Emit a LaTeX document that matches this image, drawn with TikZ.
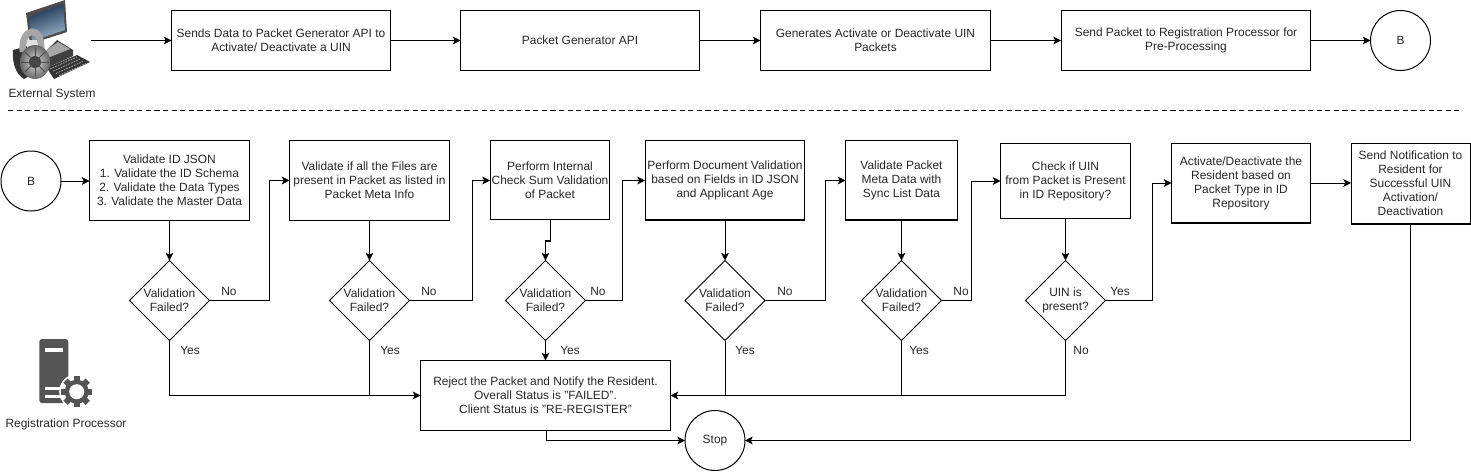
\documentclass[tikz,border=0pt]{standalone}
\usepackage{fontspec}
\setmainfont{Liberation Sans}
\usetikzlibrary{arrows.meta,shapes.geometric}
\tikzset{%
	font=\fontsize{6.8}{7.94}\selectfont,
	>={Stealth[length=4.4pt,width=4.4pt,inset=1.1pt,black]},
	flow item/.style={draw,line width=.57pt,text=black!85,outer sep=0pt,inner sep=0pt,align=center,execute at begin node=\vspace*{1pt}},
	decision/.style={flow item,diamond,minimum width=1.6cm,minimum height=1.6cm},
	endpoint/.style={flow item,circle,minimum size=1.2cm},
	link/.style={draw,line width=.57pt,->},
	tag/.style={inner sep=0pt,text=black!85},
	icon fill/.style={fill=black!67}
}
\definecolor{screendark}{HTML}{16304F}
\definecolor{screenlight}{HTML}{9DB4C8}
\begin{document}
\begin{tikzpicture}[x=.02cm,y=-.02cm]
	\useasboundingbox (0,0) rectangle (1471,471);

	% top row
	\coordinate (ext) at (91,40.5);
	\node[flow item,minimum width=4.38cm,minimum height=1.2cm] (send) at (281,40.5) {Sends Data to Packet Generator API to\\Activate/ Deactivate a UIN};
	\node[flow item,minimum width=4.78cm,minimum height=1.2cm] (api) at (580,40.5) {Packet Generator API};
	\node[flow item,minimum width=4.6cm,minimum height=1.2cm] (gen) at (875.5,40.5) {Generates Activate or Deactivate UIN\\Packets};
	\node[flow item,minimum width=5cm,minimum height=1.2cm] (proc) at (1186,40.5) {Send Packet to Registration Processor for\\Pre-Processing};
	\node[endpoint] (b1) at (1400.5,40.5) {B};
	\draw[line width=.57pt,dash pattern=on 3pt off 1.9pt] (8,110.5) -- (1459,110.5);

	% bottom row
	\node[endpoint] (b2) at (31,181) {B};
	\node[flow item,minimum width=3.2cm,minimum height=1.6cm] (json) at (169.5,180.5) {Validate ID JSON\\1. Validate the ID Schema\\2. Validate the Data Types\\3. Validate the Master Data};
	\node[flow item,minimum width=3.2cm,minimum height=1.6cm] (files) at (369.5,180.5) {Validate if all the Files are\\present in Packet as listed in\\Packet Meta Info};
	\node[flow item,minimum width=2.4cm,minimum height=1.58cm] (sum) at (550,180) {Perform Internal\\Check Sum Validation\\of Packet};
	\node[flow item,minimum width=3.2cm,minimum height=1.6cm] (doc) at (725,180) {Perform Document Validation\\based on Fields in ID JSON\\and Applicant Age};
	\node[flow item,minimum width=2.24cm,minimum height=1.6cm] (meta) at (901.5,180) {Validate Packet\\Meta Data with\\Sync List Data};
	\node[flow item,minimum width=2.6cm,minimum height=1.5cm] (uin) at (1065.5,181) {Check if UIN\\from Packet is Present\\in ID Repository?};
	\node[flow item,minimum width=2.78cm,minimum height=1.6cm] (act) at (1241,183) {Activate/Deactivate the\\Resident based on\\Packet Type in ID\\Repository};
	\node[flow item,minimum width=2.38cm,minimum height=1.62cm] (note) at (1410.5,183.5) {Send Notification to\\Resident for\\Successful UIN\\Activation/\\Deactivation};

	\node[decision] (d1) at (169.5,300.5) {Validation\\Failed?};
	\node[decision] (d2) at (369.5,300.5) {Validation\\Failed?};
	\node[decision] (d3) at (545.5,300.5) {Validation\\Failed?};
	\node[decision] (d4) at (725,300.5) {Validation\\Failed?};
	\node[decision] (d5) at (901.5,300.5) {Validation\\Failed?};
	\node[decision] (d6) at (1065.5,300.5) {UIN is\\present?};

	\node[flow item,minimum width=5cm,minimum height=1.4cm] (reject) at (545.5,395.5) {Reject the Packet and Notify the Resident.\\Overall Status is "FAILED".\\Client Status is "RE-REGISTER"};
	\node[endpoint] (stop) at (715,440.5) {Stop};

	% connectors
	\draw[link] (ext) -- (send.west);
	\draw[link] (send) -- (api);
	\draw[link] (api) -- (gen);
	\draw[link] (gen) -- (proc);
	\draw[link] (proc) -- (b1);
	\draw[link] (b2.east) -- (json.west |- b2.east);
	\draw[link] (json) -- (d1);
	\draw[link] (files) -- (d2);
	\draw[link] (sum.south) -- ++(0,21.5) -| (d3.north);
	\draw[link] (doc) -- (d4);
	\draw[link] (meta) -- (d5);
	\draw[link] (uin) -- (d6);
	\draw[link] (act.east) -- (note.west |- act.east);

	\coordinate (t1) at (269.5,180.5);
	\coordinate (t2) at (472,180.5);
	\coordinate (t3) at (622,180.5);
	\coordinate (t4) at (825,180.5);
	\coordinate (t5) at (971,181);
	\coordinate (t6) at (1152,183);
	\draw[link] (d1.east) -| (t1) -- (files.west |- t1);
	\draw[link] (d2.east) -| (t2) -- (sum.west |- t2);
	\draw[link] (d3.east) -| (t3) -- (doc.west |- t3);
	\draw[link] (d4.east) -| (t4) -- (meta.west |- t4);
	\draw[link] (d5.east) -| (t5) -- (uin.west |- t5);
	\draw[link] (d6.east) -| (t6) -- (act.west |- t6);

	\draw[link] (d1.south) |- (reject.west);
	\draw[link,-] (d2.south) -- (d2.south |- reject.west);
	\draw[link] (d3.south) -- (reject.north);
	\draw[link,-] (d4.south) -- (d4.south |- reject.east);
	\draw[link,-] (d5.south) -- (d5.south |- reject.east);
	\draw[link] (d6.south) |- (reject.east);
	\draw[link] (note.south) |- (stop.east);
	\draw[link] ([xshift=.02cm]reject.south) |- (stop.west);

	% branch labels
	\begin{scope}[every node/.style={tag}]
	\node (no1) at (229,291) {No};
	\node (no2) at (429,291) {No};
	\node (no3) at (598,291) {No};
	\node (no4) at (785,291) {No};
	\node (no5) at (961,291) {No};
	\node (yes6) at (1120,291) {Yes};
	\node (yes1) at (190,350.5) {Yes};
	\node (yes2) at (390,350.5) {Yes};
	\node (yes3) at (570,350.5) {Yes};
	\node (yes4) at (745,350.5) {Yes};
	\node (yes5) at (919,350.5) {Yes};
	\node (no6) at (1081,350.5) {No};
	\node (extlabel) at (52,94.5) {External System};
	\node (reglabel) at (66,424.5) {Registration Processor};
	\end{scope}

	% external system icon
	\fill[black!75] (57,40) -- (73,50) -- (73,56) -- (47,68) -- (37,60) -- cycle;
	\fill[black!35] (58,42) -- (70,49) -- (50,57) -- (44,52) -- cycle;
	\fill[black!80] (47,68) -- (77,55) -- (90,62) -- (54,79) -- cycle;
	\foreach \k in {0,1,2,3} {
		\draw[black!35,line width=.5pt,dash pattern=on 1pt off .6pt] (50+3*\k,69+2.2*\k) -- (77+3*\k,57+2.2*\k);
	}
	\fill[black!70] (26,13) -- (65,0) -- (67,32) -- (30,44) -- cycle;
	\shade[top color=screendark,bottom color=screenlight,shading angle=20] (29,17) -- (63,4) -- (65,30) -- (32,41) -- cycle;
	\fill[black!80] (13,50) -- (28,46) -- (40,70) -- (24,79) .. controls (16,74) and (12,64) .. (13,50) -- cycle;
	\draw[black!35,line width=3.8pt] (23,52) .. controls (20,27) and (43,24) .. (41,50);
	\fill[black!12] (27,40) rectangle (37,49);
	\shade[inner color=black!15,outer color=black!60] (35,62) ellipse (15 and 17);
	\fill[black!75] (35,62) circle (6);
	\foreach \a in {0,45,...,315} {
		\draw[black!70,line width=.5pt] (35,62) -- ++(\a:14);
	}

	% registration processor icon
	\fill[icon fill,rounded corners=1.5pt] (39.3,339) rectangle (68.3,403);
	\fill[white] (45,348.3) rectangle (63.3,351.7);
	\fill[white] (45,386.7) rectangle (63.3,390);
	\fill[white] (45,395) rectangle (63.3,398.3);
	\coordinate (gear) at (76.7,391.7);
	\fill[white] (gear) circle (17.5);
	\fill[icon fill] (gear) circle (12);
	\foreach \a in {0,45,...,315} {
		\fill[icon fill,rotate around={\a:(gear)}] (73.7,376) rectangle (79.7,382);
	}
	\fill[white] (gear) circle (7.5);
\end{tikzpicture}
\end{document}
